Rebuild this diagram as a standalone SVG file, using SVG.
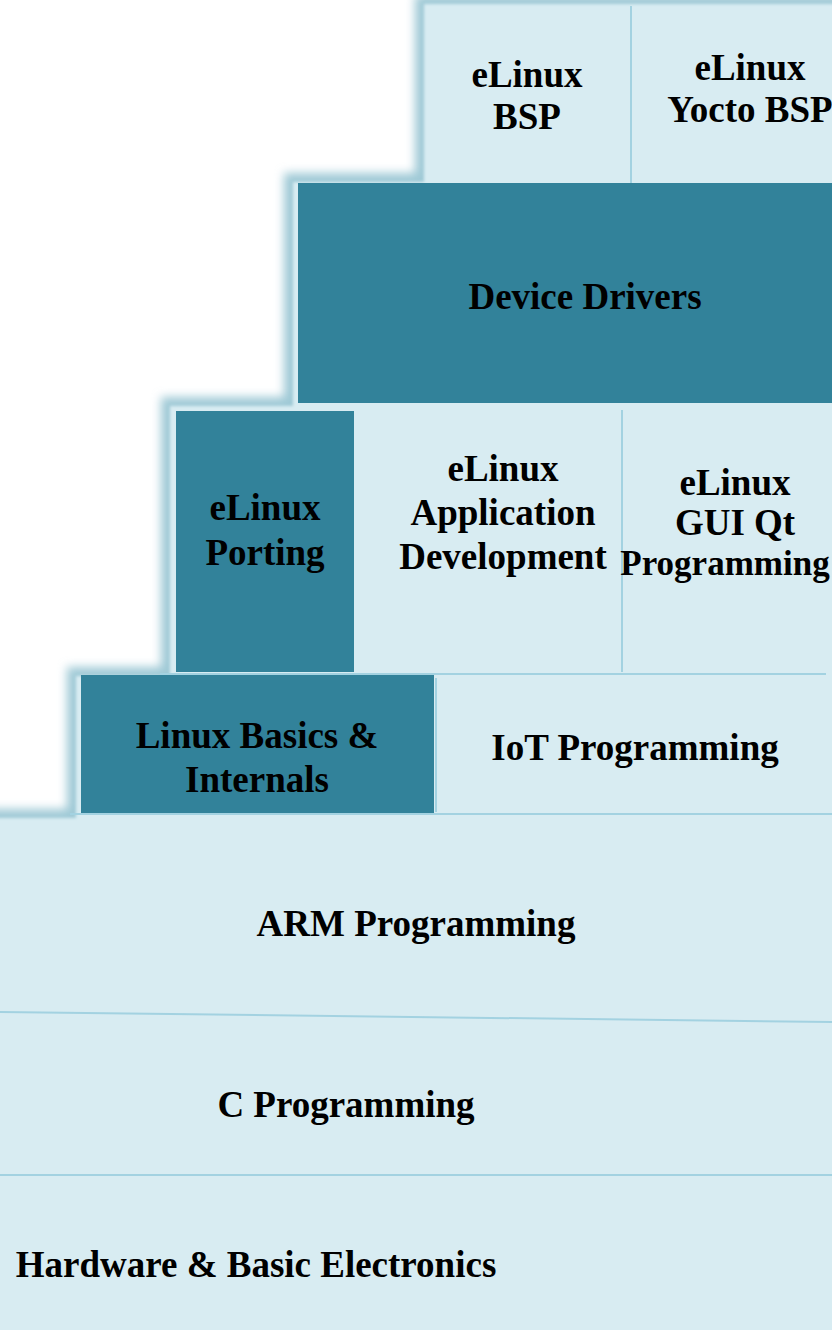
<svg xmlns="http://www.w3.org/2000/svg" width="832" height="1330" viewBox="0 0 832 1330">
<style>
.t{font-family:"Liberation Serif","Times New Roman",serif;font-weight:bold;font-size:37px;fill:#000;text-anchor:middle}
.dark{fill:#32829a}
.sep{stroke:#a3d2e1;stroke-width:2;fill:none}
</style>
<defs>
<filter id="sh" x="-10%" y="-10%" width="120%" height="120%"><feGaussianBlur stdDeviation="5"/></filter>
<filter id="soft" x="-10%" y="-10%" width="120%" height="120%"><feGaussianBlur stdDeviation="1.5"/></filter>
</defs>
<rect width="832" height="1330" fill="#ffffff"/>
<g id="background">
<polygon points="424,4 840,4 840,1340 -10,1340 -10,818 76,818 76,676 170,676 170,406 293,406 293,182 424,182" fill="none" stroke="#9fc9d6" stroke-width="18" filter="url(#sh)"/>
<polygon points="424,4 840,4 840,1340 -10,1340 -10,818 76,818 76,676 170,676 170,406 293,406 293,182 424,182" fill="#d8ecf2" filter="url(#soft)"/>
</g>
<g id="connectors">
<line class="sep" x1="631" y1="6" x2="631" y2="183"/>
<line class="sep" x1="622" y1="410" x2="622" y2="672"/>
<line class="sep" x1="160" y1="674" x2="826" y2="674"/>
<line class="sep" x1="436" y1="678" x2="436" y2="812"/>
<line class="sep" x1="70" y1="814" x2="832" y2="814"/>
<line class="sep" x1="0" y1="1012" x2="832" y2="1022"/>
<line class="sep" x1="0" y1="1175" x2="832" y2="1175"/>
</g>
<g id="elinux-bsp">
<text class="t" x="527" y="87">eLinux</text>
<text class="t" x="527" y="129">BSP</text>
</g>
<g id="elinux-yocto-bsp">
<text class="t" x="750" y="80">eLinux</text>
<text class="t" x="750" y="122">Yocto BSP</text>
</g>
<g id="device-drivers">
<rect class="dark" x="298" y="183" width="534" height="220"/>
<text class="t" x="585" y="309">Device Drivers</text>
</g>
<g id="elinux-porting">
<rect class="dark" x="176" y="411" width="178" height="261"/>
<text class="t" x="265" y="520">eLinux</text>
<text class="t" x="265" y="565">Porting</text>
</g>
<g id="elinux-app-dev">
<text class="t" x="503" y="481">eLinux</text>
<text class="t" x="503" y="525">Application</text>
<text class="t" x="503" y="569">Development</text>
</g>
<g id="elinux-gui-qt">
<text class="t" x="735" y="495">eLinux</text>
<text class="t" x="735" y="535">GUI Qt</text>
<text class="t" x="725" y="575" style="font-size:35px">Programming</text>
</g>
<g id="linux-basics">
<rect class="dark" x="81" y="675" width="353" height="138"/>
<text class="t" x="257" y="748">Linux Basics &amp;</text>
<text class="t" x="257" y="792">Internals</text>
</g>
<g id="iot-programming">
<text class="t" x="635" y="760">IoT Programming</text>
</g>
<g id="arm-programming">
<text class="t" x="416" y="936">ARM Programming</text>
</g>
<g id="c-programming">
<text class="t" x="346" y="1117">C Programming</text>
</g>
<g id="hardware">
<text class="t" x="256" y="1277">Hardware &amp; Basic Electronics</text>
</g>
</svg>
